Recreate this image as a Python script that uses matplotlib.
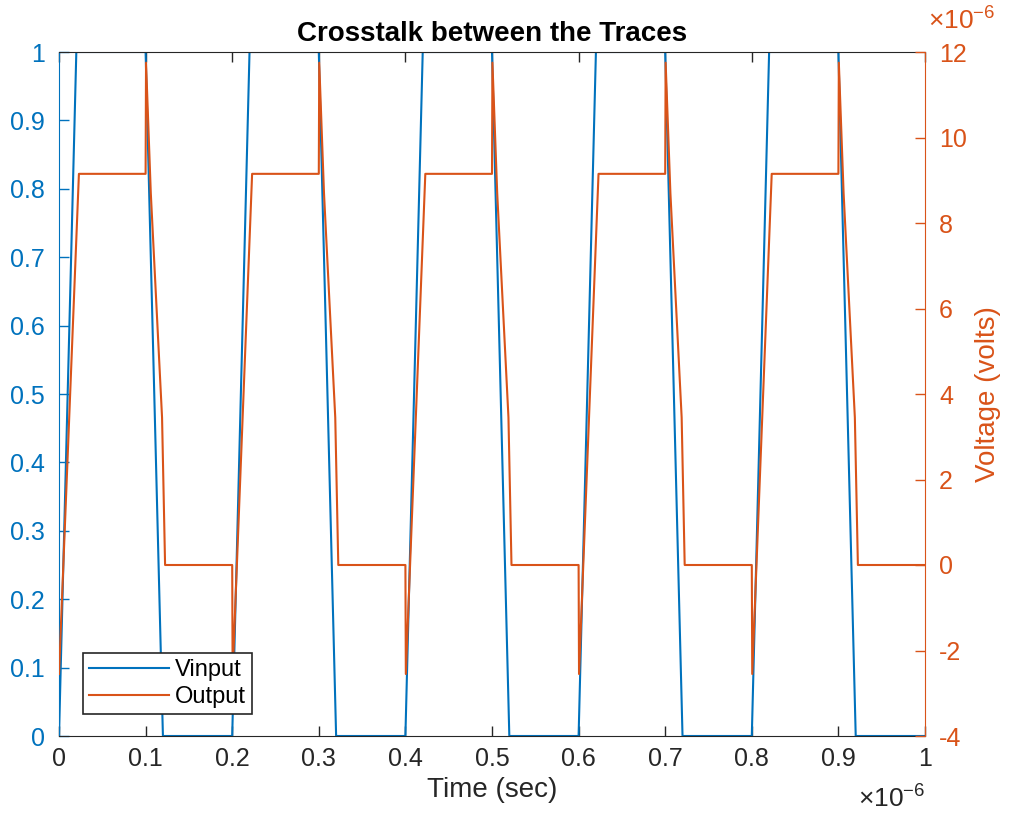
import matplotlib.pyplot as plt
from matplotlib.ticker import FuncFormatter

plt.rcParams['font.family'] = ['Liberation Sans', 'DejaVu Sans']
plt.rcParams['mathtext.fontset'] = 'custom'
plt.rcParams['mathtext.rm'] = 'Liberation Sans'

blue = '#0072BD'
orange = '#D95319'
dark = '#262626'

# time points in microseconds
t_vin = [0, 0.02, 0.1, 0.12, 0.2, 0.22, 0.3, 0.32, 0.4, 0.42, 0.5,
         0.52, 0.6, 0.62, 0.7, 0.72, 0.8, 0.82, 0.9, 0.92, 1.0]
vin = [0, 1, 1, 0, 0, 1, 1, 0, 0, 1, 1,
       0, 0, 1, 1, 0, 0, 1, 1, 0, 0]

t_out = [0, 0.023, 0.1, 0.1005, 0.106, 0.119, 0.1225,
         0.2, 0.2005, 0.223, 0.3, 0.3005, 0.306, 0.319, 0.3225,
         0.4, 0.4005, 0.423, 0.5, 0.5005, 0.506, 0.519, 0.5225,
         0.6, 0.6005, 0.623, 0.7, 0.7005, 0.706, 0.719, 0.7225,
         0.8, 0.8005, 0.823, 0.9, 0.9005, 0.906, 0.919, 0.9225,
         1.0]
# output voltage in microvolts
v_out = [-2.55, 9.15, 9.15, 11.75, 8.7, 3.45, 0,
         0, -2.55, 9.15, 9.15, 11.75, 8.7, 3.45, 0,
         0, -2.55, 9.15, 9.15, 11.75, 8.7, 3.45, 0,
         0, -2.55, 9.15, 9.15, 11.75, 8.7, 3.45, 0,
         0, -2.55, 9.15, 9.15, 11.75, 8.7, 3.45, 0,
         0]

x_ticks = [0, 0.1, 0.2, 0.3, 0.4, 0.5, 0.6, 0.7, 0.8, 0.9, 1]
left_ticks = [0, 0.1, 0.2, 0.3, 0.4, 0.5, 0.6, 0.7, 0.8, 0.9, 1]
right_ticks = [-4, -2, 0, 2, 4, 6, 8, 10, 12]

t_vin_s = [t * 1e-6 for t in t_vin]
t_out_s = [t * 1e-6 for t in t_out]
v_out_v = [v * 1e-6 for v in v_out]

fig = plt.figure(figsize=(10.1, 8.23), dpi=100)
ax = fig.add_axes([59 / 1010, 1 - 736 / 823, 866 / 1010, 684 / 823])
ax2 = ax.twinx()

l1, = ax.plot(t_vin_s, vin, color=blue, lw=1.5, label='Vinput')
l2, = ax2.plot(t_out_s, v_out_v, color=orange, lw=1.5, label='Output')

ax.set_xlim(0, 1e-6)
ax.set_ylim(0, 1)
ax2.set_ylim(-4e-6, 12e-6)

ax.set_xticks([x * 1e-6 for x in x_ticks])
ax.xaxis.set_major_formatter(FuncFormatter(lambda x, p: '%g' % round(x * 1e6, 6)))
ax.set_yticks(left_ticks)
ax.yaxis.set_major_formatter(FuncFormatter(lambda y, p: '%g' % y))
ax2.set_yticks([y * 1e-6 for y in right_ticks])
ax2.yaxis.set_major_formatter(FuncFormatter(lambda y, p: '%g' % round(y * 1e6, 6)))

ax.tick_params(axis='x', direction='in', length=7, width=1, colors=dark,
               labelsize=18, top=True, pad=8)
ax.tick_params(axis='y', direction='in', length=7, width=1, colors=blue,
               labelsize=18, right=False, pad=10)
ax2.tick_params(axis='y', direction='in', length=7, width=1, colors=orange,
                labelsize=18, pad=10)

for s in ['top', 'bottom']:
    ax.spines[s].set_color(dark)
ax.spines['left'].set_color(blue)
ax.spines['right'].set_visible(False)
ax2.spines['right'].set_color(orange)
for s in ['left', 'top', 'bottom']:
    ax2.spines[s].set_visible(False)

ax.set_xlabel('Time (sec)', fontsize=20, color=dark, labelpad=4)
ax2.set_ylabel('Voltage (volts)', fontsize=20, color=orange, labelpad=6)
ax.set_title('Crosstalk between the Traces', fontsize=20, fontweight='bold', pad=8)

fig.text(925 / 1010, 1 - 808 / 823, r'$\times\mathregular{10^{-6}}$', fontsize=19,
         color=dark, ha='right', va='baseline')
fig.text(928 / 1010, 1 - 30 / 823, r'$\times\mathregular{10^{-6}}$', fontsize=19,
         color=orange, ha='left', va='baseline')

leg = ax2.legend([l1, l2], ['Vinput', 'Output'], loc='lower left',
                 bbox_to_anchor=(24 / 866, 22 / 684), borderaxespad=0,
                 fontsize=17, handlelength=3.4, handletextpad=0.25,
                 labelspacing=0.2, borderpad=0.25, fancybox=False, framealpha=1)
leg.get_frame().set_edgecolor(dark)
leg.get_frame().set_linewidth(1.2)

fig.savefig('out.png', dpi=100)
